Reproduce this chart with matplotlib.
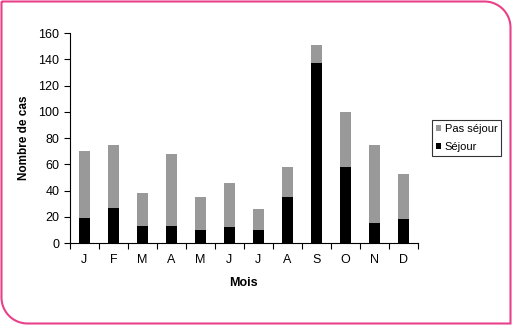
import numpy as np
import matplotlib.pyplot as plt
from matplotlib.path import Path
from matplotlib.patches import PathPatch
from matplotlib.transforms import IdentityTransform

plt.rcParams['font.family'] = ['Liberation Sans', 'DejaVu Sans']

mois = ['J', 'F', 'M', 'A', 'M', 'J', 'J', 'A', 'S', 'O', 'N', 'D']
sejour = [19, 27, 13, 13, 10, 12, 10, 35, 137, 58, 15, 18]
total = [70, 75, 38, 68, 35, 46, 26, 58, 151, 100, 75, 53]
pas_sejour = [t - s for t, s in zip(total, sejour)]

fig = plt.figure(figsize=(5.14, 3.28), dpi=100)
ax = fig.add_axes([0.136, 0.259, 0.677, 0.640])

x = np.arange(len(mois))
ax.bar(x, sejour, width=0.38, color='black', label='Séjour')
ax.bar(x, pas_sejour, width=0.38, bottom=sejour, color='#999999', label='Pas séjour')

ax.set_xlim(-0.5, len(mois) - 0.5)
ax.set_ylim(0, 160)
ax.set_yticks(range(0, 161, 20))
ax.set_xticks(x)
ax.set_xticklabels(mois)
ax.set_xticks(np.arange(-0.5, len(mois), 1), minor=True)
ax.tick_params(axis='x', which='major', length=0, pad=8, labelsize=9)
ax.tick_params(axis='x', which='minor', length=4, width=0.8, direction='out')
ax.tick_params(axis='y', length=4, width=0.8, direction='out', labelsize=9)
for sp in ['top', 'right']:
    ax.spines[sp].set_visible(False)
ax.spines['left'].set_linewidth(0.8)
ax.spines['bottom'].set_linewidth(0.8)

ax.set_xlabel('Mois', fontsize=9, fontweight='bold', labelpad=8)
ax.set_ylabel('Nombre de cas', fontsize=8.5, fontweight='bold', labelpad=6)

handles, labels = ax.get_legend_handles_labels()
leg = ax.legend(handles[::-1], labels[::-1], loc='center left',
                bbox_to_anchor=(1.04, 0.5), fontsize=8, frameon=True,
                fancybox=False, edgecolor='black', handlelength=0.5,
                handleheight=0.5, handletextpad=0.3, borderpad=0.35,
                borderaxespad=0, labelspacing=0.75)
leg.get_frame().set_linewidth(0.8)

# pink frame with two rounded corners
W, H = 514, 328
l, r, b, t = 1.5, 510.5, 4.5, 326.5
rad = 26
a1 = np.linspace(np.pi / 2, 0, 20)
a2 = np.linspace(-np.pi / 2, -np.pi, 20)
pts = [(l, t), (r - rad, t)]
pts += [(r - rad + rad * np.cos(a), t - rad + rad * np.sin(a)) for a in a1]
pts += [(r, b), (l + rad, b)]
pts += [(l + rad + rad * np.cos(a), b + rad + rad * np.sin(a)) for a in a2]
pts += [(l, t)]
frame = PathPatch(Path(pts), facecolor='none', edgecolor='#e8418a',
                  linewidth=1.5, transform=IdentityTransform())
fig.patches.append(frame)

fig.savefig('out.png', dpi=100)
